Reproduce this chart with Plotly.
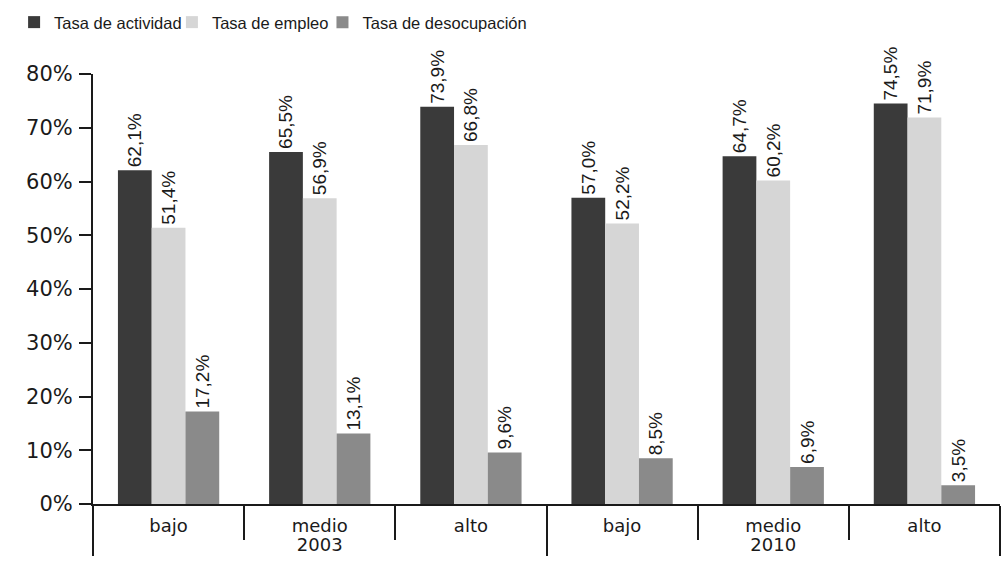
import plotly.graph_objects as go

years = ["2003", "2003", "2003", "2010", "2010", "2010"]
levels = ["bajo", "medio", "alto", "bajo", "medio", "alto"]

actividad = [62.1, 65.5, 73.9, 57.0, 64.7, 74.5]
empleo = [51.4, 56.9, 66.8, 52.2, 60.2, 71.9]
desocupacion = [17.2, 13.1, 9.6, 8.5, 6.9, 3.5]

tick_vals = [0, 10, 20, 30, 40, 50, 60, 70, 80]
tick_text = ["0%", "10%", "20%", "30%", "40%", "50%", "60%", "70%", "80%"]

series = [
    ("Tasa de actividad", actividad, "#3a3a3a"),
    ("Tasa de empleo", empleo, "#d6d6d6"),
    ("Tasa de desocupación", desocupacion, "#8a8a8a"),
]

SANS = "Liberation Sans, Arial, sans-serif"
WIDE = "DejaVu Sans, Verdana, sans-serif"
INK = "#1a1a1a"

# one legend box per series so each key sits at its own place along the top
legend_ids = ["legend", "legend2", "legend3"]
legend_x = [-0.087, 0.087, 0.253]

fig = go.Figure()
for (name, vals, color), lg in zip(series, legend_ids):
    fig.add_trace(go.Bar(
        name=name,
        x=[years, levels],
        y=vals,
        marker=dict(color=color, line=dict(width=0)),
        texttemplate="%{y:.1f}%",
        textposition="outside",
        textangle=-90,
        constraintext="none",
        textfont=dict(family=SANS, size=19, color=INK),
        cliponaxis=False,
        legend=lg,
    ))

legend_style = dict(
    orientation="h",
    xanchor="left",
    y=1.12, yanchor="middle",
    font=dict(family=SANS, size=16.5, color=INK),
    itemwidth=30,
    bgcolor="rgba(0,0,0,0)",
)

fig.update_layout(
    width=1002,
    height=562,
    margin=dict(l=93, r=2, t=74, b=58),
    paper_bgcolor="white",
    plot_bgcolor="white",
    barmode="group",
    bargap=0.33,
    bargroupgap=0,
    separators=",.",
    font=dict(family=SANS, size=17, color=INK),
    showlegend=True,
    legend=dict(x=legend_x[0], **legend_style),
    legend2=dict(x=legend_x[1], **legend_style),
    legend3=dict(x=legend_x[2], **legend_style),
)

fig.update_xaxes(
    type="multicategory",
    showline=True,
    linecolor=INK,
    linewidth=2,
    ticks="outside",
    ticklen=34,
    tickwidth=2,
    tickcolor=INK,
    ticklabelstandoff=4,
    showdividers=True,
    dividercolor=INK,
    dividerwidth=2,
    tickfont=dict(family=WIDE, size=18, color=INK),
    showgrid=False,
)

fig.update_yaxes(
    range=[0, 80],
    tickvals=tick_vals,
    ticktext=tick_text,
    showline=True,
    linecolor=INK,
    linewidth=2,
    ticks="outside",
    ticklen=12,
    tickwidth=2,
    tickcolor=INK,
    ticklabelstandoff=2,
    tickfont=dict(family=WIDE, size=21, color=INK),
    showgrid=False,
    zeroline=False,
)

fig.write_html("out.html")
